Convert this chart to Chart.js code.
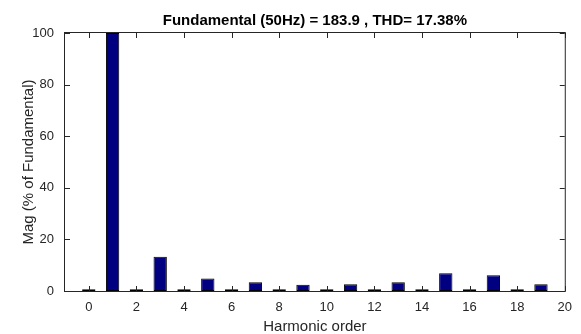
<!DOCTYPE html>
<html>
<head>
<meta charset="utf-8">
<script src="https://cdn.jsdelivr.net/npm/chart.js@4/dist/chart.umd.min.js"></script>
<style>
  html, body { margin: 0; padding: 0; background: #fff; }
  #wrap { width: 581px; height: 334px; }
</style>
</head>
<body>
<div id="wrap"><canvas id="harm-chart"></canvas></div>
<script>
const harmonicOrder = [0, 1, 2, 3, 4, 5, 6, 7, 8, 9, 10, 11, 12, 13, 14, 15, 16, 17, 18, 19];
const magnitude = [0.7, 100, 0.7, 13.3, 0.7, 4.8, 0.7, 3.4, 0.7, 2.4, 0.7, 2.6, 0.7, 3.4, 0.7, 6.9, 0.7, 6.1, 0.7, 2.6];
const xTicks = [0, 2, 4, 6, 8, 10, 12, 14, 16, 18, 20];
const yTicks = [0, 20, 40, 60, 80, 100];

const axisColor = "#262626";
const font = "'Liberation Sans', Arial, Helvetica, sans-serif";

// matlab style box with inward ticks
const boxPlugin = {
  id: "box",
  afterDraw(chart) {
    const { ctx, chartArea: a, scales } = chart;
    ctx.save();
    ctx.strokeStyle = axisColor;
    ctx.lineWidth = 1;
    ctx.strokeRect(a.left - 0.5, a.top - 0.5, a.right - a.left + 1, a.bottom - a.top + 1);
    ctx.beginPath();
    xTicks.forEach((v) => {
      const x = Math.round(scales.x.getPixelForValue(v)) + 0.5;
      ctx.moveTo(x, a.bottom);
      ctx.lineTo(x, a.bottom - 5);
      ctx.moveTo(x, a.top);
      ctx.lineTo(x, a.top + 5);
    });
    yTicks.forEach((v) => {
      const y = Math.round(scales.y.getPixelForValue(v)) + 0.5;
      ctx.moveTo(a.left, y);
      ctx.lineTo(a.left + 5, y);
      ctx.moveTo(a.right, y);
      ctx.lineTo(a.right - 5, y);
    });
    ctx.stroke();
    ctx.restore();
  },
};

new Chart(document.getElementById("harm-chart"), {
  type: "bar",
  data: {
    datasets: [
      {
        label: "Mag",
        data: harmonicOrder.map((h, i) => ({ x: h, y: magnitude[i] })),
        backgroundColor: "#000080",
        borderColor: "#000000",
        borderWidth: 1,
        borderSkipped: false,
        barPercentage: 0.56,
        categoryPercentage: 1,
      },
    ],
  },
  options: {
    responsive: true,
    maintainAspectRatio: false,
    animation: false,
    layout: {
      padding: { left: 0, right: 13, top: 0, bottom: 0 },
    },
    plugins: {
      legend: { display: false },
      tooltip: { enabled: false },
      title: {
        display: true,
        fullSize: false,
        text: "Fundamental (50Hz) = 183.9 , THD= 17.38%",
        color: "#000000",
        font: { family: font, size: 15, weight: "bold", lineHeight: 1.2 },
        padding: { top: 12, bottom: 3 },
      },
    },
    scales: {
      x: {
        type: "linear",
        min: -1,
        max: 20,
        offset: false,
        afterBuildTicks: (scale) => {
          scale.ticks = xTicks.map((v) => ({ value: v }));
        },
        afterFit: (scale) => {
          scale.height = 43;
        },
        grid: { display: false, tickLength: 0, drawTicks: false },
        border: { display: false },
        ticks: {
          color: axisColor,
          font: { family: font, size: 13 },
          padding: 9,
          maxRotation: 0,
          autoSkip: false,
        },
        title: {
          display: true,
          text: "Harmonic order",
          color: axisColor,
          font: { family: font, size: 15, lineHeight: 1 },
          padding: { top: 0, bottom: 0 },
        },
      },
      y: {
        min: 0,
        max: 100,
        afterBuildTicks: (scale) => {
          scale.ticks = yTicks.map((v) => ({ value: v }));
        },
        afterFit: (scale) => {
          scale.width = 65;
        },
        grid: { display: false, tickLength: 0, drawTicks: false },
        border: { display: false },
        ticks: {
          color: axisColor,
          font: { family: font, size: 13 },
          padding: 11,
        },
        title: {
          display: true,
          text: "Mag (% of Fundamental)",
          color: axisColor,
          font: { family: font, size: 15, lineHeight: 1.2 },
          padding: { top: 20, bottom: 0 },
        },
      },
    },
  },
  plugins: [boxPlugin],
});
</script>
</body>
</html>
